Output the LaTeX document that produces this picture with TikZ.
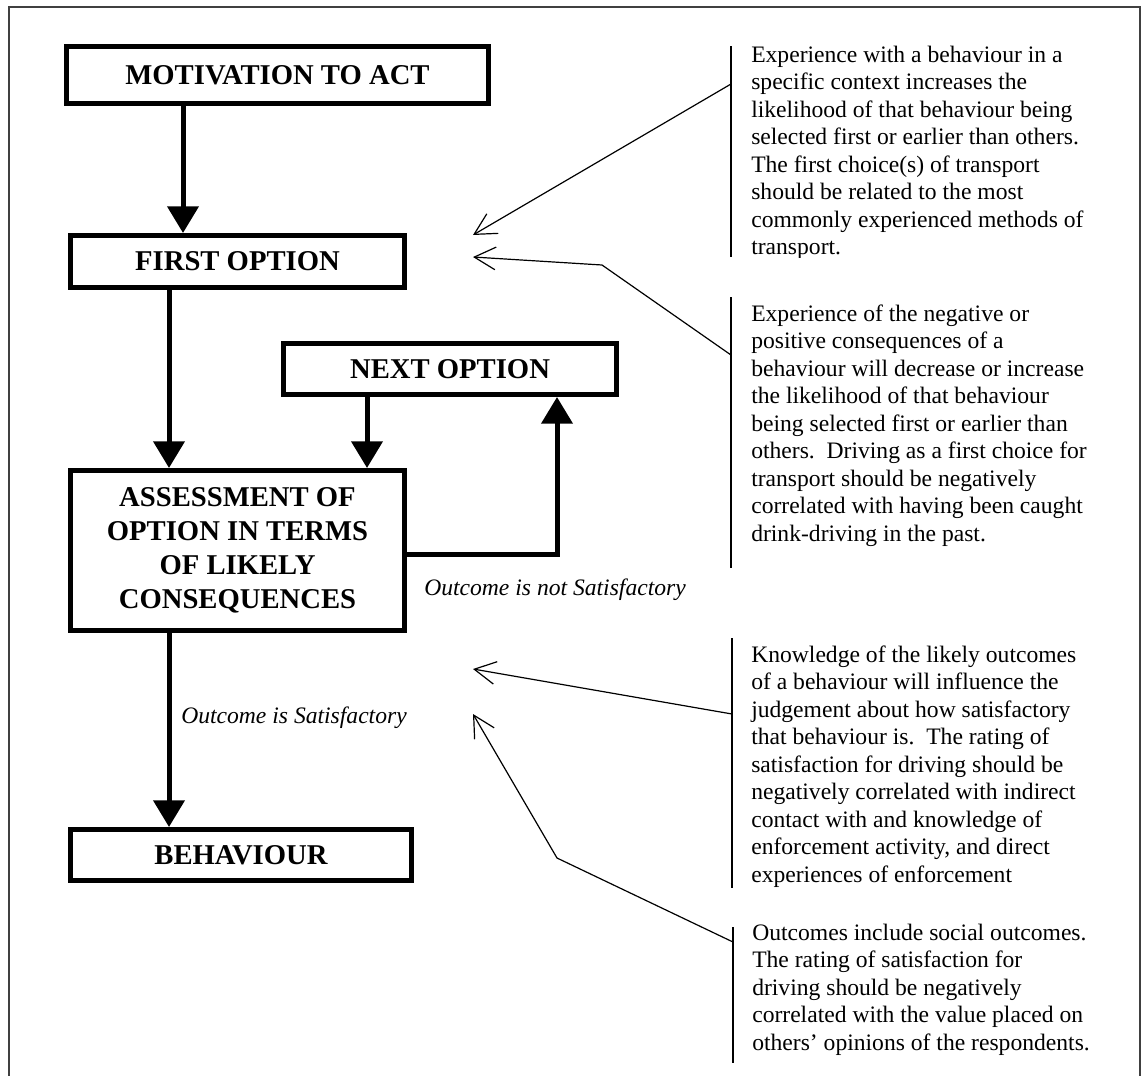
\documentclass[tikz,border=0pt]{standalone}
\usepackage{fontspec}
\setmainfont{Liberation Serif}
\usetikzlibrary{arrows.meta}
\begin{document}
\begin{tikzpicture}[x=0.75pt,y=-0.75pt,
  boxnode/.style={draw=black, line width=3.75pt, inner sep=0pt, align=center,
    font=\fontsize{21.5}{25.5}\selectfont\bfseries},
  thickarrow/.style={line width=3.75pt, line join=miter, -{Triangle[length=20pt,width=23pt]}},
  leader/.style={line width=0.9pt, -{Straight Barb[length=16pt,width=17pt,line width=0.9pt]}},
  bracket/.style={line width=1.1pt},
  note/.style={anchor=north west, inner sep=0pt, align=left,
    font=\fontsize{17.7}{20.6}\selectfont},
  lab/.style={anchor=base west, inner sep=0pt, font=\fontsize{17.7}{20.6}\selectfont\itshape},
  frame/.style={line width=1pt, draw=black!75}]
\useasboundingbox (0,0) rectangle (1146,1075);
% outer frame
\coordinate (fbl) at (9,1085);
\coordinate (ftl) at (9,7);
\coordinate (ftr) at (1140,7);
\coordinate (fbr) at (1140,1085);
\draw[frame] (fbl) -- (ftl) -- (ftr) -- (fbr);

% flow boxes
\node[boxnode, minimum width=316.5pt, minimum height=42.75pt] (mot) at (277.5,75) {MOTIVATION TO ACT};
\node[boxnode, minimum width=250.5pt, minimum height=39pt] (first) at (237.5,261.5) {FIRST OPTION};
\node[boxnode, minimum width=249.75pt, minimum height=38.25pt] (next) at (450,369) {NEXT OPTION};
\node[boxnode, minimum width=250.5pt, minimum height=120pt] (assess) at (237.5,550.5)
  {ASSESSMENT OF\\OPTION IN TERMS\\OF LIKELY\\CONSEQUENCES};
\node[boxnode, minimum width=255.75pt, minimum height=38.25pt] (beh) at (241,855) {BEHAVIOUR};

% connector columns
\coordinate (xa) at (183,0);
\coordinate (xb) at (169,0);
\coordinate (xc) at (367,0);
\coordinate (fb) at (557,554);

\draw[thickarrow] (mot.south -| xa) -- (first.north -| xa);
\draw[thickarrow] (first.south -| xb) -- (assess.north -| xb);
\draw[thickarrow] (next.south -| xc) -- (assess.north -| xc);
\draw[thickarrow] (assess.east |- fb) -- (fb) -- (next.south -| fb);
\draw[thickarrow] (assess.south -| xb) -- (beh.north -| xb);

% labels
\node[lab] (notsat) at (424,595) {Outcome is not Satisfactory};
\node[lab] (sat) at (181,723) {Outcome is Satisfactory};

% annotation notes
\begin{scope}
\clip (740,30) rectangle (1130,257);
\node[note] (n1) at (751,42.8) {\strut Experience with a behaviour in a\\
specific context increases the\\
likelihood of that behaviour being\\
selected first or earlier than others.\\
The first choice(s) of transport\\
should be related to the most\\
commonly experienced methods of\\
transport.};
\end{scope}
\node[note] (n2) at (751,301.8) {\strut Experience of the negative or\\
positive consequences of a\\
behaviour will decrease or increase\\
the likelihood of that behaviour\\
being selected first or earlier than\\
others.\ \ Driving as a first choice for\\
transport should be negatively\\
correlated with having been caught\\
drink-driving in the past.};
\node[note] (n3) at (751,642.8) {\strut Knowledge of the likely outcomes\\
of a behaviour will influence the\\
judgement about how satisfactory\\
that behaviour is.\ \ The rating of\\
satisfaction for driving should be\\
negatively correlated with indirect\\
contact with and knowledge of\\
enforcement activity, and direct\\
experiences of enforcement};
\node[note] (n4) at (752,920.8) {\strut Outcomes include social outcomes.\\
The rating of satisfaction for\\
driving should be negatively\\
correlated with the value placed on\\
others’ opinions of the respondents.};

% brackets
\coordinate (b1t) at (731,46);  \coordinate (b1b) at (731,257);
\coordinate (b2t) at (731,297); \coordinate (b2b) at (731,568);
\coordinate (b3t) at (732,638); \coordinate (b3b) at (732,888);
\coordinate (b4t) at (733,927); \coordinate (b4b) at (733,1063);
\draw[bracket] (b1t) -- (b1b);
\draw[bracket] (b2t) -- (b2b);
\draw[bracket] (b3t) -- (b3b);
\draw[bracket] (b4t) -- (b4b);

% leader lines
\coordinate (l1s) at (731,84);  \coordinate (l1e) at (473,235);
\coordinate (l2s) at (731,355); \coordinate (l2m) at (602,265); \coordinate (l2e) at (473,257);
\coordinate (l3s) at (732,714); \coordinate (l3e) at (473,669);
\coordinate (l4s) at (733,942); \coordinate (l4m) at (557,858); \coordinate (l4e) at (473,714);
\draw[leader] (l1s) -- (l1e);
\draw[leader] (l2s) -- (l2m) -- (l2e);
\draw[leader] (l3s) -- (l3e);
\draw[leader] (l4s) -- (l4m) -- (l4e);
\end{tikzpicture}
\end{document}
